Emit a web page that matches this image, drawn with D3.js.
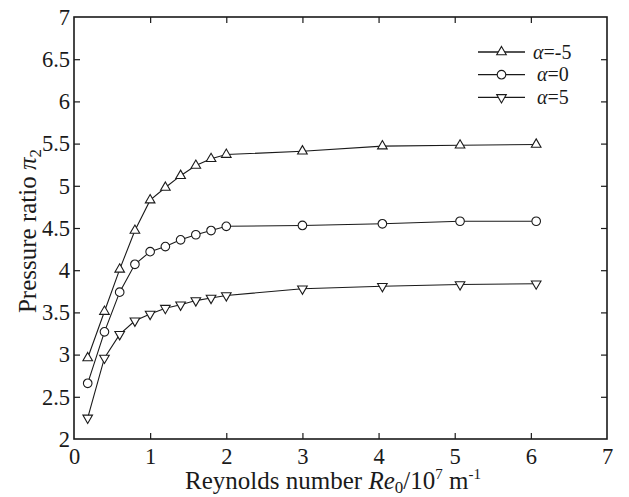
<!DOCTYPE html>
<html>
<head>
<meta charset="utf-8">
<script src="https://cdn.jsdelivr.net/npm/d3@7/dist/d3.min.js"></script>
<style>
  html, body { margin: 0; padding: 0; background: #fff; }
</style>
</head>
<body>
<svg id="chart" width="629" height="497"></svg>
<script>
// Reynolds number (10^7 m^-1) at each computed point
const reynolds = [0.18, 0.4, 0.6, 0.8, 1.0, 1.2, 1.4, 1.6, 1.8, 2.0, 3.0, 4.05, 5.07, 6.07];

// Pressure ratio pi2 for each angle of attack
const alphaMinus5 = [2.96, 3.51, 4.01, 4.47, 4.83, 4.98, 5.12, 5.24, 5.32, 5.37, 5.41, 5.47, 5.48, 5.49];
const alphaZero   = [2.66, 3.27, 3.74, 4.07, 4.22, 4.28, 4.36, 4.42, 4.47, 4.52, 4.53, 4.55, 4.58, 4.58];
const alphaPlus5  = [2.25, 2.96, 3.24, 3.40, 3.48, 3.55, 3.59, 3.64, 3.67, 3.70, 3.78, 3.81, 3.83, 3.84];

const seriesLabels = ["-5", "0", "5"];
const seriesMarkers = ["up", "circle", "down"];

const xTicks = [0, 1, 2, 3, 4, 5, 6, 7];
const yTicks = [2, 2.5, 3, 3.5, 4, 4.5, 5, 5.5, 6, 6.5, 7];

const series = [alphaMinus5, alphaZero, alphaPlus5].map((vals, i) => ({
  label: seriesLabels[i],
  marker: seriesMarkers[i],
  points: reynolds.map((r, j) => ({ x: r, y: vals[j] }))
}));

const svg = d3.select("#chart");
const ink = "#1a1a1a";
const serif = "'Liberation Serif', 'Times New Roman', serif";

const x = d3.scaleLinear().domain([0, 7]).range([74, 607]);
const y = d3.scaleLinear().domain([2, 7]).range([439, 17]);

const plotL = x.range()[0], plotR = x.range()[1];
const plotT = y.range()[1], plotB = y.range()[0];
const tickLen = 6;

// Axes: labels on bottom/left, inward ticks on all four sides
const gx = svg.append("g").attr("transform", `translate(0,${plotB})`)
  .call(d3.axisBottom(x).tickValues(xTicks).tickFormat(d3.format("d"))
        .tickSizeInner(-tickLen).tickSizeOuter(0).tickPadding(8));
const gy = svg.append("g").attr("transform", `translate(${plotL},0)`)
  .call(d3.axisLeft(y).tickValues(yTicks).tickFormat(d => d3.format("")(d))
        .tickSizeInner(-tickLen).tickSizeOuter(0).tickPadding(4));
const gxt = svg.append("g").attr("transform", `translate(0,${plotT})`)
  .call(d3.axisTop(x).tickValues(xTicks).tickFormat("").tickSizeInner(-tickLen).tickSizeOuter(0));
const gyr = svg.append("g").attr("transform", `translate(${plotR},0)`)
  .call(d3.axisRight(y).tickValues(yTicks).tickFormat("").tickSizeInner(-tickLen).tickSizeOuter(0));

[gx, gy, gxt, gyr].forEach(g => {
  g.attr("font-family", null).attr("font-size", null);
  g.select(".domain").remove();
  g.selectAll(".tick line").attr("stroke", ink).attr("stroke-width", 1.2);
  g.selectAll(".tick text").style("font-size", "22.5px").attr("fill", ink);
});
gx.selectAll(".tick text").attr("dy", "0.75em");
// Tick marks at the ends coincide with the frame, so drop them
[gx, gxt].forEach(g => g.selectAll(".tick line").filter(d => d === 0 || d === 7).remove());
[gy, gyr].forEach(g => g.selectAll(".tick line").filter(d => d === 2 || d === 7).remove());

// Plot frame
svg.append("rect")
  .attr("x", plotL).attr("y", plotT)
  .attr("width", plotR - plotL).attr("height", plotB - plotT)
  .attr("fill", "none").attr("stroke", ink).attr("stroke-width", 1.6);

const line = d3.line().x(d => x(d.x)).y(d => y(d.y));

function drawMarker(sel, type) {
  if (type === "circle") {
    sel.append("circle").attr("r", 4.3);
  } else {
    sel.append("path")
      .attr("d", d3.symbol().type(d3.symbolTriangle).size(40)())
      .attr("transform", type === "down" ? "rotate(180)" : null);
  }
  sel.selectAll("circle, path")
    .attr("fill", "#fff").attr("stroke", ink).attr("stroke-width", 1.1);
}

series.forEach(s => {
  svg.append("path").datum(s.points)
    .attr("d", line).attr("fill", "none")
    .attr("stroke", ink).attr("stroke-width", 1.1);
  svg.append("g").selectAll("g").data(s.points).join("g")
    .attr("transform", d => `translate(${x(d.x)},${y(d.y)})`)
    .each(function () { drawMarker(d3.select(this), s.marker); });
});

// Legend
const legend = svg.append("g");
series.forEach((s, i) => {
  const cy = 52 + i * 22.7;
  const row = legend.append("g").attr("transform", `translate(0,${cy})`);
  row.append("line").attr("x1", 478).attr("x2", 525).attr("y1", 0).attr("y2", 0)
    .attr("stroke", ink).attr("stroke-width", 1.3);
  const m = row.append("g").attr("transform", "translate(501.5,0)");
  drawMarker(m, s.marker);
  const t = row.append("text").attr("x", i === 0 ? 533 : 537).attr("y", 6.5)
    .style("font-size", "20px");
  t.append("tspan").style("font-style", "italic").text("α");
  t.append("tspan").text("=" + s.label);
});

// Axis titles
const xt = svg.append("text").attr("x", 333).attr("y", 489)
  .attr("text-anchor", "middle").style("font-size", "25px");
xt.append("tspan").text("Reynolds number ");
xt.append("tspan").style("font-style", "italic").text("Re");
xt.append("tspan").style("font-size", "17px").attr("dy", 4).text("0");
xt.append("tspan").attr("dy", -4).text("/10");
xt.append("tspan").style("font-size", "15px").attr("dy", -10).text("7");
xt.append("tspan").attr("dy", 10).text(" m");
xt.append("tspan").style("font-size", "15px").attr("dy", -10).text("-1");

const yt = svg.append("text")
  .attr("transform", "translate(36,231) rotate(-90)")
  .attr("text-anchor", "middle").style("font-size", "25px");
yt.append("tspan").text("Pressure ratio ");
yt.append("tspan").style("font-style", "italic").text("π");
yt.append("tspan").style("font-size", "17px").attr("dy", 5).text("2");

// Serif face for every label
svg.style("font-family", serif);
svg.selectAll("text").style("font-family", serif).style("fill", ink);
</script>
</body>
</html>
